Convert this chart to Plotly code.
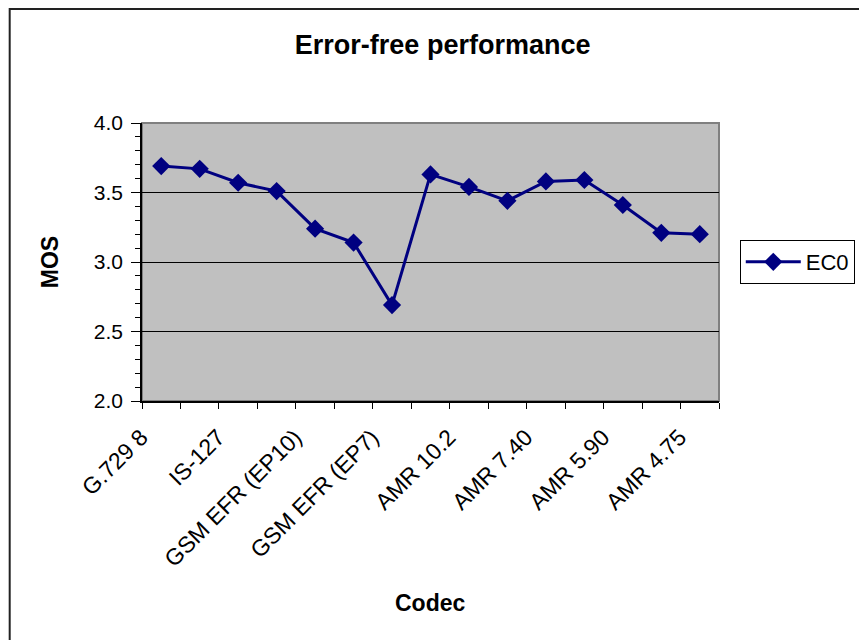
import plotly.graph_objects as go

# 15 codecs, only every other one is labelled on the axis
codecs = ['G.729 8', 'G.728 16', 'IS-127', 'GSM EFR', 'GSM EFR (EP10)', 'GSM EFR (EP8)',
          'GSM EFR (EP7)', 'AMR 12.2', 'AMR 10.2', 'AMR 7.95', 'AMR 7.40', 'AMR 6.70',
          'AMR 5.90', 'AMR 5.15', 'AMR 4.75']
shown_labels = ['G.729 8', '', 'IS-127', '', 'GSM EFR (EP10)', '', 'GSM EFR (EP7)', '',
                'AMR 10.2', '', 'AMR 7.40', '', 'AMR 5.90', '', 'AMR 4.75']
mos_ec0 = [3.69, 3.67, 3.57, 3.51, 3.24, 3.14, 2.69, 3.63, 3.54, 3.44, 3.58, 3.59, 3.41, 3.21, 3.20]
y_ticks = [2.0, 2.5, 3.0, 3.5, 4.0]

navy = '#000080'
font = 'Arial, Liberation Sans, sans-serif'

fig = go.Figure()
fig.add_trace(go.Scatter(x=codecs, y=mos_ec0, name='EC0', mode='lines+markers',
                         line=dict(color=navy, width=3),
                         marker=dict(symbol='diamond', size=14, color=navy)))

# page body has an 8px margin, so the figure is a bit smaller than the window
fig.update_layout(
    width=859, height=632,
    margin=dict(l=134, r=145, t=115, b=239),
    paper_bgcolor='white', plot_bgcolor='#C0C0C0',
    font=dict(family=font, color='black'),
    title=dict(text='<b>Error-free performance</b>', x=0.506, xanchor='center',
               y=0.9415, yanchor='middle', font=dict(size=27)),
    showlegend=True,
    legend=dict(x=1.036, xanchor='left', y=0.5, yanchor='middle',
                bordercolor='black', borderwidth=1, bgcolor='white',
                font=dict(size=22), itemwidth=55),
)

fig.update_xaxes(type='category', tickmode='array', tickvals=codecs, ticktext=shown_labels,
                 tickson='boundaries', ticks='outside', ticklen=6, tickcolor='black',
                 tickangle=-45, tickfont=dict(size=23), ticklabelstandoff=12, ticklabelshift=-20,
                 showline=True, linecolor='black', linewidth=1.5, showgrid=False,
                 range=[-0.5, len(codecs) - 0.5])
fig.update_yaxes(range=[2.0, 4.0], tickvals=y_ticks, ticktext=[f'{v:.1f}' for v in y_ticks],
                 ticks='outside', ticklen=9, tickcolor='black', tickfont=dict(size=21),
                 ticklabelstandoff=4,
                 showline=True, linecolor='black', linewidth=1.5,
                 showgrid=True, gridcolor='black', gridwidth=1, zeroline=False,
                 minor=dict(dtick=0.1, ticks='outside', ticklen=5, tickcolor='black', showgrid=False))

# plot-area border (top/right in grey) and outer chart frame
fig.add_shape(type='rect', xref='paper', yref='paper', x0=0, y0=0, x1=1, y1=1,
              line=dict(color='#808080', width=2), layer='below')
fig.add_shape(type='rect', xref='paper', yref='paper', x0=-0.2293, y0=-0.9, x1=1.3, y1=1.41,
              line=dict(color='#222222', width=2))

fig.add_annotation(text='<b>Codec</b>', xref='paper', yref='paper', x=0.5, y=-0.727,
                   showarrow=False, font=dict(size=23), xanchor='center', yanchor='middle')
fig.add_annotation(text='<b>MOS</b>', xref='paper', yref='paper', x=-0.159, y=0.5,
                   showarrow=False, font=dict(size=23), textangle=-90,
                   xanchor='center', yanchor='middle')

fig.write_html('out.html')
